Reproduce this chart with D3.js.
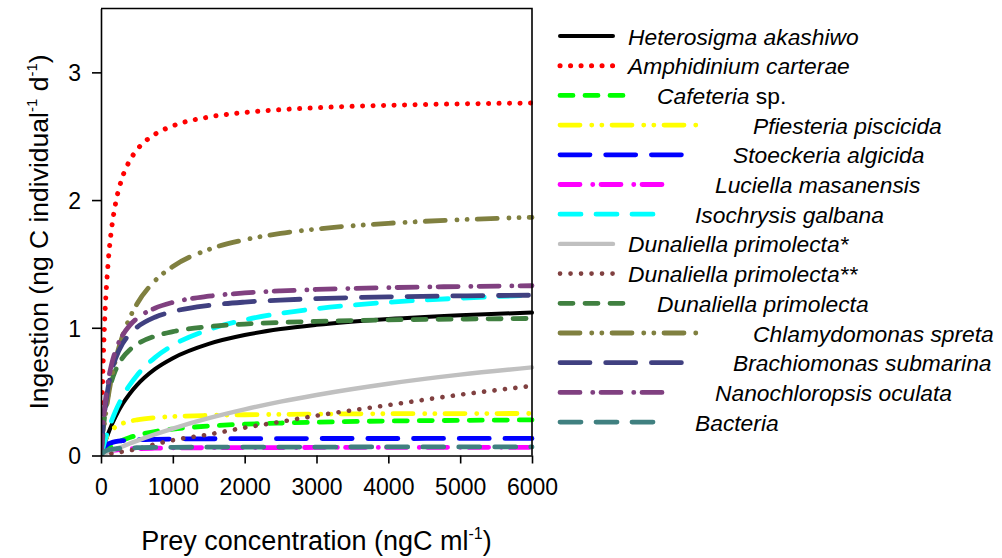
<!DOCTYPE html>
<html>
<head>
<meta charset="utf-8">
<script src="https://cdn.jsdelivr.net/npm/d3@7"></script>
<style>
  html, body { margin: 0; padding: 0; background: #fff; }
  svg { display: block; font-family: "Liberation Sans", Arial, sans-serif; }
</style>
</head>
<body>
<svg id="chart" width="1002" height="558"></svg>
<script>
// ---------- data ----------
const xValues = [0, 25, 50, 100, 150, 200, 300, 400, 500, 750, 1000, 1500, 2000, 2500, 3000, 4000, 5000, 6000];

const heterosigma   = [0, 0.048, 0.092, 0.172, 0.241, 0.301, 0.403, 0.484, 0.551, 0.676, 0.762, 0.874, 0.943, 0.990, 1.023, 1.069, 1.099, 1.119];
const amphidinium   = [0, 0.636, 1.037, 1.514, 1.787, 1.965, 2.182, 2.309, 2.393, 2.515, 2.581, 2.650, 2.686, 2.708, 2.723, 2.742, 2.753, 2.760];
const cafeteria     = [0, 0.016, 0.030, 0.055, 0.075, 0.092, 0.120, 0.141, 0.158, 0.188, 0.207, 0.231, 0.245, 0.254, 0.261, 0.270, 0.275, 0.279];
const pfiesteria    = [0, 0.067, 0.112, 0.168, 0.201, 0.223, 0.251, 0.268, 0.279, 0.296, 0.305, 0.314, 0.319, 0.322, 0.324, 0.327, 0.328, 0.329];
const stoeckeria    = [0, 0.045, 0.068, 0.090, 0.101, 0.108, 0.116, 0.120, 0.123, 0.127, 0.129, 0.131, 0.132, 0.132, 0.133, 0.133, 0.134, 0.134];
const luciella      = [0, 0.013, 0.022, 0.033, 0.039, 0.043, 0.049, 0.052, 0.054, 0.057, 0.059, 0.061, 0.062, 0.062, 0.063, 0.063, 0.064, 0.064];
const isochrysis    = [0, 0.055, 0.106, 0.197, 0.276, 0.345, 0.460, 0.552, 0.627, 0.767, 0.863, 0.986, 1.062, 1.113, 1.150, 1.200, 1.232, 1.255];
const dunaliellaA   = [0, 0.006, 0.013, 0.025, 0.037, 0.049, 0.071, 0.094, 0.115, 0.165, 0.211, 0.292, 0.361, 0.422, 0.474, 0.562, 0.633, 0.690];
const dunaliellaB   = [0, 0.002, 0.005, 0.010, 0.015, 0.020, 0.030, 0.040, 0.050, 0.088, 0.120, 0.165, 0.218, 0.264, 0.312, 0.395, 0.476, 0.545];
const dunaliellaC   = [0, 0.176, 0.304, 0.477, 0.587, 0.664, 0.765, 0.827, 0.870, 0.934, 0.970, 1.009, 1.029, 1.042, 1.050, 1.062, 1.068, 1.073];
const chlamydomonas = [0, 0.139, 0.259, 0.458, 0.615, 0.743, 0.937, 1.078, 1.186, 1.367, 1.480, 1.613, 1.689, 1.739, 1.773, 1.818, 1.846, 1.865];
const brachiomonas  = [0, 0.195, 0.338, 0.535, 0.665, 0.756, 0.876, 0.952, 1.004, 1.083, 1.127, 1.175, 1.201, 1.217, 1.228, 1.242, 1.250, 1.255];
const nanochloropsis= [0, 0.215, 0.371, 0.583, 0.720, 0.816, 0.941, 1.019, 1.073, 1.153, 1.199, 1.247, 1.273, 1.289, 1.300, 1.314, 1.323, 1.329];
const bacteria      = [0, 0.020, 0.031, 0.043, 0.049, 0.052, 0.057, 0.059, 0.061, 0.063, 0.064, 0.065, 0.066, 0.066, 0.066, 0.067, 0.067, 0.067];

// legend labels: [italic part, plain part]
const seriesLabels = [
  ["Heterosigma akashiwo", ""],
  ["Amphidinium carterae", ""],
  ["Cafeteria", " sp."],
  ["Pfiesteria piscicida", ""],
  ["Stoeckeria algicida", ""],
  ["Luciella masanensis", ""],
  ["Isochrysis galbana", ""],
  ["Dunaliella primolecta*", ""],
  ["Dunaliella primolecta**", ""],
  ["Dunaliella primolecta", ""],
  ["Chlamydomonas spreta", ""],
  ["Brachiomonas submarina", ""],
  ["Nanochloropsis oculata", ""],
  ["Bacteria", ""]
];
const seriesValues = [heterosigma, amphidinium, cafeteria, pfiesteria, stoeckeria, luciella, isochrysis,
                      dunaliellaA, dunaliellaB, dunaliellaC, chlamydomonas, brachiomonas, nanochloropsis, bacteria];

const xTicks = [0, 1000, 2000, 3000, 4000, 5000, 6000];
const yTicks = [0, 1, 2, 3];

// ---------- styles (separate from data) ----------
const DOT = "0.1 10.4";
const DASH = "13 12";
const DASH_DOT_DOT = "20 11.7 0.1 10 0.1 10.1";
const LONG_DASH = "30 15.7";
const DASH_DOT = "20 12.7 0.1 8.2";
const MED_DASH = "21 15";
const styles = [
  { color: "#000000", dash: null,         width: 4.0, legLen: 57,  textX: 628 },
  { color: "#ff0000", dash: DOT,          width: 5.0, legLen: 57,  textX: 628 },
  { color: "#00ff00", dash: DASH,         width: 4.8, legLen: 70,  textX: 657 },
  { color: "#ffff00", dash: DASH_DOT_DOT, width: 4.8, legLen: 149, textX: 753 },
  { color: "#0000ff", dash: LONG_DASH,    width: 4.8, legLen: 127, textX: 733 },
  { color: "#ff00ff", dash: DASH_DOT,     width: 4.8, legLen: 117, textX: 715 },
  { color: "#00ffff", dash: MED_DASH,     width: 4.8, legLen: 99,  textX: 695 },
  { color: "#c0c0c0", dash: null,         width: 4.4, legLen: 57,  textX: 628 },
  { color: "#804040", dash: DOT,          width: 4.6, legLen: 57,  textX: 628 },
  { color: "#408040", dash: DASH,         width: 4.8, legLen: 70,  textX: 657 },
  { color: "#808040", dash: DASH_DOT_DOT, width: 4.8, legLen: 149, textX: 753 },
  { color: "#404080", dash: LONG_DASH,    width: 4.8, legLen: 127, textX: 733 },
  { color: "#804080", dash: DASH_DOT,     width: 4.8, legLen: 117, textX: 715 },
  { color: "#408080", dash: MED_DASH,     width: 4.8, legLen: 99,  textX: 695 }
];

// ---------- layout ----------
const svg = d3.select("#chart");
const plot = { left: 101, right: 532, top: 8.5, bottom: 455.5 };

const x = d3.scaleLinear().domain([0, 6000]).range([plot.left, plot.right]);
const y = d3.scaleLinear().domain([0, 3.5]).range([plot.bottom, plot.top]);

svg.append("clipPath").attr("id", "clip")
  .append("rect")
  .attr("x", plot.left).attr("y", plot.top - 2)
  .attr("width", plot.right - plot.left + 4).attr("height", plot.bottom - plot.top + 2);

// curves
const line = d3.line()
  .x((d, i) => x(xValues[i]))
  .y(d => y(d))
  .curve(d3.curveMonotoneX);

const curves = svg.append("g").attr("clip-path", "url(#clip)");
seriesValues.forEach((vals, i) => {
  const s = styles[i];
  curves.append("path")
    .attr("d", line(vals))
    .attr("fill", "none")
    .attr("stroke", s.color)
    .attr("stroke-width", s.width)
    .attr("stroke-linecap", "round")
    .attr("stroke-linejoin", "round")
    .attr("stroke-dasharray", s.dash);
});

// frame (top and right borders)
svg.append("path")
  .attr("d", `M${plot.left},${plot.top}H${plot.right}V${plot.bottom}`)
  .attr("fill", "none").attr("stroke", "#000").attr("stroke-width", 1.6);

// axes
const xAxis = d3.axisBottom(x).tickValues(xTicks).tickSize(8).tickSizeOuter(0).tickPadding(15).tickFormat(d3.format("d"));
const gx = svg.append("g").attr("transform", `translate(0,${plot.bottom})`).call(xAxis);
const yAxis = d3.axisLeft(y).tickValues(yTicks).tickSize(9).tickSizeOuter(0).tickPadding(11).tickFormat(d3.format("d"));
const gy = svg.append("g").attr("transform", `translate(${plot.left},0)`).call(yAxis);

[gx, gy].forEach(g => {
  g.select(".domain").attr("stroke", "#000").attr("stroke-width", 1.6);
  g.selectAll(".tick line").attr("stroke", "#000").attr("stroke-width", 1.6);
  g.selectAll(".tick text")
    .attr("fill", "#000")
    .style("font-family", "'Liberation Sans', Arial, sans-serif")
    .style("font-size", "23px");
});
gy.selectAll(".tick text").attr("dy", "0.36em");

// axis titles
const xt = svg.append("text")
  .attr("x", (plot.left + plot.right) / 2)
  .attr("y", 550)
  .attr("text-anchor", "middle")
  .style("font-size", "27px")
  .attr("fill", "#000");
xt.append("tspan").text("Prey concentration (ngC ml");
xt.append("tspan").text("-1").style("font-size", "16px").attr("dy", -11);
xt.append("tspan").text(")").attr("dy", 11);

const yt = svg.append("text")
  .attr("transform", "translate(48,232) rotate(-90)")
  .attr("text-anchor", "middle")
  .style("font-size", "26.5px")
  .attr("fill", "#000");
yt.append("tspan").text("Ingestion (ng C individual");
yt.append("tspan").text("-1").style("font-size", "15px").attr("dy", -11);
yt.append("tspan").text(" d").attr("dy", 11);
yt.append("tspan").text("-1").style("font-size", "15px").attr("dy", -11);
yt.append("tspan").text(")").attr("dy", 11);

// legend
const legX = 558, legY0 = 36, legStep = 29.7;
const legend = svg.append("g");
seriesLabels.forEach((lab, i) => {
  const s = styles[i];
  const yy = legY0 + i * legStep;
  legend.append("line")
    .attr("x1", legX + 2).attr("x2", legX + s.legLen - 2)
    .attr("y1", yy).attr("y2", yy)
    .attr("stroke", s.color)
    .attr("stroke-width", s.width)
    .attr("stroke-linecap", "round")
    .attr("stroke-dasharray", s.dash);
  const t = legend.append("text")
    .attr("x", s.textX).attr("y", yy + 8.5)
    .style("font-size", "22.8px")
    .attr("fill", "#000");
  t.append("tspan").text(lab[0]).style("font-style", "italic");
  if (lab[1]) t.append("tspan").text(lab[1]);
});
</script>
</body>
</html>
